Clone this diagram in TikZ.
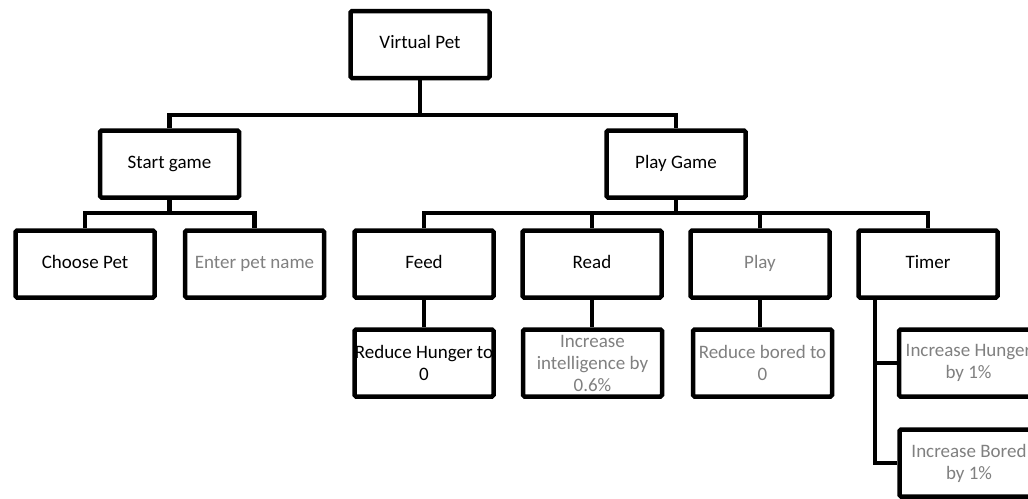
\documentclass[tikz,border=0pt]{standalone}
\usepackage{fontspec}
\setmainfont{Carlito}
\definecolor{greytext}{RGB}{128,128,128}
\tikzset{
  box/.style={draw=black,line width=4.5pt,rounded corners=1.5pt,minimum width=139pt,minimum height=67pt,
    inner xsep=-6pt,align=center,font=\fontsize{19}{22}\selectfont},
  greybox/.style={box,text=greytext},
  link/.style={line width=4.2pt}
}
\begin{document}
\begin{tikzpicture}[x=1pt,y=-1pt]
			\clip (0,0) rectangle (1028,498);
			\fill[white] (0,0) rectangle (1028,498);
			\node[box] (vp) at (420,44.5) {\strut Virtual Pet};
			\node[box] (start) at (169.5,164) {\strut Start game};
			\node[box] (playgame) at (676,164) {\strut Play Game};
			\node[box] (choose) at (85,264) {\strut Choose Pet};
			\node[greybox] (enter) at (254.5,264) {\strut Enter pet name};
			\node[box] (feed) at (424,264) {\strut Feed};
			\node[box] (read) at (592,264) {\strut Read};
			\node[greybox] (play) at (760,264) {\strut Play};
			\node[box] (timer) at (928,264) {\strut Timer};
			\node[box] (reduceh) at (424,363) {Reduce Hunger to\\0};
			\node[greybox] (intel) at (592.5,363) {Increase\\intelligence by\\0.6\%};
			\node[greybox] (reduceb) at (762.5,363) {Reduce bored to\\0};
			\node[greybox] (inchunger) at (968.5,363) {Increase Hunger\\by 1\%};
			\node[greybox] (incbored) at (969,463) {Increase Bored\\by 1\%};
			\coordinate (vpbus) at (420,115);
			\coordinate (startbus) at (169.5,213);
			\coordinate (gamebus) at (676,213);
			\coordinate (timerbus) at (875,463);
			\draw[link] (vp.south) -- (vpbus);
			\draw[link] (start.north) |- (vpbus) -| (playgame.north);
			\draw[link] (start.south) -- (startbus);
			\draw[link] (choose.north) |- (startbus) -| (enter.north);
			\draw[link] (playgame.south) -- (gamebus);
			\draw[link] (feed.north) |- (gamebus) -| (timer.north);
			\draw[link] (read.north) |- (gamebus);
			\draw[link] (play.north) |- (gamebus);
			\draw[link] (feed.south) -- (reduceh.north);
			\draw[link] (read.south) -- (read.south |- intel.north);
			\draw[link] (play.south) -- (play.south |- reduceb.north);
			\draw[link] (timer.south -| timerbus) |- (incbored.west);
			\draw[link] (timerbus |- inchunger) -- (inchunger.west);
\end{tikzpicture}
\end{document}
